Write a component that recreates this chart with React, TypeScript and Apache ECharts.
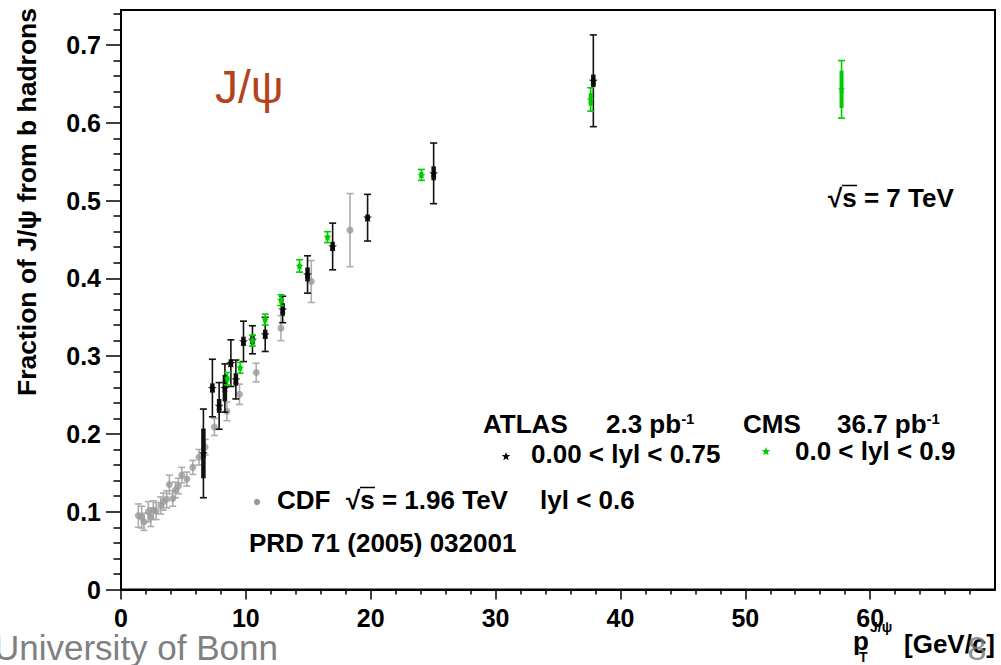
import React, { useEffect, useRef } from 'react';
import * as echarts from 'echarts';

// ---- data ----
const cdfPt = [1.39, 1.66, 1.84, 2.19, 2.38, 2.59, 2.81, 3.18, 3.39, 3.66, 3.87, 4.15, 4.36, 4.6, 4.87, 5.27, 5.75, 6.25, 6.74, 7.48, 8.48, 9.49, 10.83, 12.81, 15.24, 18.34];
const cdfFrac = [0.095, 0.093, 0.087, 0.100, 0.093, 0.102, 0.101, 0.108, 0.113, 0.116, 0.135, 0.117, 0.128, 0.133, 0.147, 0.142, 0.157, 0.170, 0.183, 0.209, 0.229, 0.251, 0.279, 0.336, 0.396, 0.462];
const cdfErr = [0.015, 0.014, 0.011, 0.013, 0.012, 0.012, 0.011, 0.011, 0.011, 0.011, 0.012, 0.010, 0.010, 0.010, 0.010, 0.009, 0.009, 0.010, 0.010, 0.011, 0.012, 0.013, 0.012, 0.016, 0.027, 0.047];

const atlasPt = [6.60, 7.32, 7.86, 8.32, 8.80, 9.20, 9.81, 10.53, 11.55, 12.95, 14.94, 16.95, 19.75, 25.04, 37.83];
const atlasFrac = [0.175, 0.259, 0.236, 0.259, 0.291, 0.270, 0.319, 0.321, 0.328, 0.360, 0.405, 0.441, 0.478, 0.535, 0.654];
const atlasErr = [0.057, 0.037, 0.030, 0.031, 0.030, 0.025, 0.026, 0.018, 0.022, 0.017, 0.024, 0.030, 0.030, 0.039, 0.059];
const atlasStat = [0.032, 0.006, 0.009, 0.017, 0.005, 0.008, 0.006, 0.006, 0.006, 0.008, 0.009, 0.006, 0.004, 0.009, 0.008];

const cmsPt = [8.52, 9.54, 10.53, 11.55, 12.81, 14.30, 16.54, 24.06, 37.62, 57.71];
const cmsFrac = [0.271, 0.285, 0.320, 0.347, 0.372, 0.416, 0.453, 0.533, 0.630, 0.643];
const cmsErr = [0.008, 0.007, 0.007, 0.007, 0.007, 0.008, 0.007, 0.007, 0.015, 0.037];
const cmsStat = [0.003, 0.003, 0.003, 0.003, 0.003, 0.003, 0.003, 0.004, 0.008, 0.024];

const xMajorTicks = [0, 10, 20, 30, 40, 50, 60];
const xMinorTicks = [2, 4, 6, 8, 12, 14, 16, 18, 22, 24, 26, 28, 32, 34, 36, 38, 42, 44, 46, 48, 52, 54, 56, 58, 62, 64, 66, 68];
const yMajorTicks = [0, 0.1, 0.2, 0.3, 0.4, 0.5, 0.6, 0.7];
const yMinorTicks = [0.02, 0.04, 0.06, 0.08, 0.12, 0.14, 0.16, 0.18, 0.22, 0.24, 0.26, 0.28, 0.32, 0.34, 0.36, 0.38, 0.42, 0.44, 0.46, 0.48, 0.52, 0.54, 0.56, 0.58, 0.62, 0.64, 0.66, 0.68, 0.72, 0.74];

// ---- styling ----
const F = '"Liberation Sans", Arial, Helvetica, sans-serif';
const GREY = '#9a9a9a';
const GREY_BAR = '#adadad';
const GREEN = '#00cc00';
const BLACK = '#000000';
const TS = 26; // annotation text size

const starPath = (() => {
  const pts: string[] = [];
  for (let i = 0; i < 10; i++) {
    const r = i % 2 === 0 ? 50 : 21;
    const a = -Math.PI / 2 + (i * Math.PI) / 5;
    pts.push(`${(50 + r * Math.cos(a)).toFixed(2)} ${(50 + r * Math.sin(a)).toFixed(2)}`);
  }
  return 'M' + pts.join(' L') + ' Z';
})();

echarts.graphic.registerShape('starmark', echarts.graphic.extendPath(starPath, {}) as any);

function errorSeries(xs: number[], ys: number[], errs: number[], color: string, lw: number, cap: number, z: number) {
  return {
    type: 'custom',
    z,
    silent: true,
    data: xs.map((x, i) => [x, ys[i] - errs[i], ys[i] + errs[i]]),
    encode: { x: 0, y: [1, 2] },
    renderItem: (params: any, api: any) => {
      const x = api.value(0);
      const lo = api.coord([x, api.value(1)]);
      const hi = api.coord([x, api.value(2)]);
      const style = { stroke: color, lineWidth: lw };
      const children: any[] = [
        { type: 'line', shape: { x1: lo[0], y1: lo[1], x2: hi[0], y2: hi[1] }, style },
      ];
      if (cap > 0) {
        children.push({ type: 'line', shape: { x1: lo[0] - cap, y1: lo[1], x2: lo[0] + cap, y2: lo[1] }, style });
        children.push({ type: 'line', shape: { x1: hi[0] - cap, y1: hi[1], x2: hi[0] + cap, y2: hi[1] }, style });
      }
      return { type: 'group', children };
    },
  };
}

function txt(text: string, x: number, y: number, size: number, opts: any = {}) {
  return {
    type: 'text',
    x,
    y,
    rotation: opts.rotation || 0,
    z: 50,
    style: {
      text,
      font: `${opts.weight || 'bold'} ${size}px ${opts.family || F}`,
      fill: opts.fill || '#000',
      align: opts.align || 'left',
      verticalAlign: 'middle',
      rich: opts.rich,
    },
  };
}

const supRich = {
  sup: { font: `bold 15px ${F}`, verticalAlign: 'top', padding: [0, 0, 12, 0] },
};

export default function App() {
  const ref = useRef<HTMLDivElement>(null);
  useEffect(() => {
    if (!ref.current) return;
    const chart = echarts.init(ref.current, null, { renderer: 'svg' });
    const axisLabelStyle = { fontFamily: F, fontWeight: 'bold', fontSize: 25, color: '#000' };
    chart.setOption({
      animation: false,
      backgroundColor: '#fff',
      grid: { left: 121, right: 6, top: 10, bottom: 75.5, show: true, borderColor: '#000', borderWidth: 2, containLabel: false },
      xAxis: [
        {
          type: 'value', min: 0, max: 70, interval: 10,
          axisLine: { show: true, onZero: false, lineStyle: { color: '#000', width: 2 } },
          axisTick: { show: true, length: 10, customValues: xMajorTicks, lineStyle: { color: '#000', width: 1.5 } },
          axisLabel: { ...axisLabelStyle, margin: 16, customValues: xMajorTicks },
          splitLine: { show: false },
        },
        {
          type: 'value', min: 0, max: 70, position: 'bottom',
          axisLine: { show: false },
          axisTick: { show: true, length: 5, customValues: xMinorTicks, lineStyle: { color: '#000', width: 1.5 } },
          axisLabel: { show: false },
          splitLine: { show: false },
        },
      ],
      yAxis: [
        {
          type: 'value', min: 0, max: 0.745, interval: 0.1,
          axisLine: { show: true, onZero: false, lineStyle: { color: '#000', width: 2 } },
          axisTick: { show: true, length: 15, customValues: yMajorTicks, lineStyle: { color: '#000', width: 1.5 } },
          axisLabel: { ...axisLabelStyle, margin: 20, customValues: yMajorTicks },
          splitLine: { show: false },
        },
        {
          type: 'value', min: 0, max: 0.745, position: 'left',
          axisLine: { show: false },
          axisTick: { show: true, length: 7.5, customValues: yMinorTicks, lineStyle: { color: '#000', width: 1.5 } },
          axisLabel: { show: false },
          splitLine: { show: false },
        },
      ],
      series: [
        errorSeries(cdfPt, cdfFrac, cdfErr, GREY_BAR, 1.6, 3.5, 2),
        {
          type: 'scatter', z: 3, symbol: 'circle', symbolSize: 7,
          itemStyle: { color: GREY },
          data: cdfPt.map((x, i) => [x, cdfFrac[i]]),
        },
        errorSeries(atlasPt, atlasFrac, atlasErr, '#111', 1.6, 3.5, 4),
        errorSeries(atlasPt, atlasFrac, atlasStat, '#111', 4.5, 0, 4),
        {
          type: 'scatter', z: 5, symbol: 'path://' + starPath, symbolSize: 9,
          itemStyle: { color: BLACK },
          data: atlasPt.map((x, i) => [x, atlasFrac[i]]),
        },
        errorSeries(cmsPt, cmsFrac, cmsErr, GREEN, 1.6, 3.5, 6),
        errorSeries(cmsPt, cmsFrac, cmsStat, GREEN, 4, 0, 6),
        {
          type: 'scatter', z: 7, symbol: 'path://' + starPath, symbolSize: 8,
          itemStyle: { color: GREEN },
          data: cmsPt.map((x, i) => [x, cmsFrac[i]]),
        },
      ],
      graphic: [
        txt('J/\u03c8', 215, 87, 46, { weight: 'normal', fill: '#b5421f' }),
        txt('Fraction of J/\u03c8 from b hadrons', 27, 202, 26.5, { rotation: Math.PI / 2, align: 'center' }),
        txt('\u221as = 7 TeV', 828, 198, TS),
        { type: 'line', z: 50, shape: { x1: 842, y1: 185.5, x2: 857, y2: 185.5 }, style: { stroke: '#000', lineWidth: 1.5 } },
        txt('ATLAS', 483, 424, TS),
        txt('2.3 pb{sup|-1}', 606, 424, TS, { rich: supRich }),
        txt('CMS', 743, 424, TS),
        txt('36.7 pb{sup|-1}', 837, 424, TS, { rich: supRich }),
        { type: 'starmark', z: 50, x: 501.5, y: 452, scaleX: 0.09, scaleY: 0.09, style: { fill: BLACK } },
        txt('0.00 < lyl < 0.75', 531, 454, TS),
        { type: 'starmark', z: 50, x: 761.5, y: 447, scaleX: 0.09, scaleY: 0.09, style: { fill: GREEN } },
        txt('0.0 < lyl < 0.9', 795, 451, TS),
        { type: 'circle', z: 50, shape: { cx: 257, cy: 502, r: 3.2 }, style: { fill: GREY } },
        txt('CDF', 277, 500, TS),
        txt('\u221as = 1.96 TeV', 346, 500, TS),
        { type: 'line', z: 50, shape: { x1: 360, y1: 487.5, x2: 375, y2: 487.5 }, style: { stroke: '#000', lineWidth: 1.5 } },
        txt('lyl < 0.6', 540, 500, TS),
        txt('PRD 71 (2005) 032001', 249, 543, TS),
        txt('p', 853, 641, TS),
        txt('J/\u03c8', 870, 627, 14),
        txt('T', 859, 657, 14),
        txt('[GeV/c]', 904, 644, TS),
        txt('University of Bonn', 278, 647, 35, { weight: 'normal', align: 'right', fill: '#808080' }),
        txt('8', 977, 648, 34, { weight: 'normal', align: 'center', fill: 'rgba(125,125,125,0.85)' }),
      ],
    });
    return () => chart.dispose();
  }, []);
  return <div ref={ref} style={{ position: 'fixed', left: 0, top: 0, width: 1001, height: 665, background: '#fff' }} />;
}
